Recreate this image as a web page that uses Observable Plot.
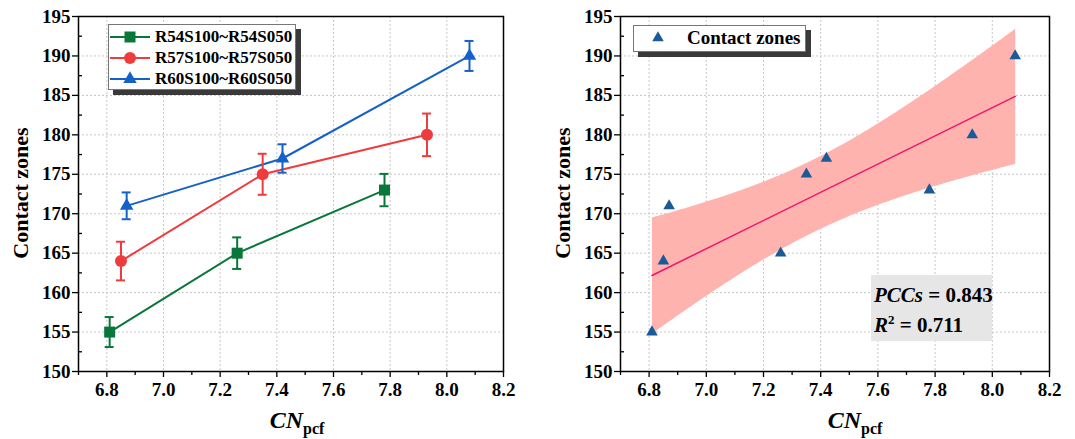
<!DOCTYPE html>
<html><head><meta charset="utf-8">
<script src="https://cdn.jsdelivr.net/npm/d3@7"></script>
<script src="https://cdn.jsdelivr.net/npm/@observablehq/plot@0.6"></script>
<style>
body{margin:0;background:#fff;}
#wrap{position:relative;width:1075px;height:439px;font-family:"Liberation Serif","Times New Roman",serif;font-weight:bold;color:#000;overflow:hidden;}
#wrap svg text{font-family:"Liberation Serif","Times New Roman",serif !important;font-weight:bold !important;font-size:19px !important;fill:#000;}
.panel{position:absolute;top:0;}
.ov{position:absolute;white-space:nowrap;}
.legend{position:absolute;background:#fff;border:1px solid #777;box-shadow:5px 5px 0 #3a3a3a;box-sizing:border-box;}
.lrow{display:flex;align-items:center;height:21px;}
.ylab{position:absolute;font-size:22px;transform:translate(-50%,-50%) rotate(-90deg);white-space:nowrap;line-height:1;}
.xlab{position:absolute;font-size:24px;transform:translateX(-50%);white-space:nowrap;line-height:1;}
.xlab i{font-style:italic;}
.xlab sub{font-size:16px;vertical-align:-6px;line-height:0;}
</style></head><body><div id="wrap"></div>
<script>
// ---- data ----
const seriesNames = ["R54S100~R54S050", "R57S100~R57S050", "R60S100~R60S050"];
const seriesColors = ["#0a773a", "#f03b3d", "#1561c9"];
const seriesSymbols = ["square", "circle", "triangle"];
const seriesRadius = [6.2, 6, 5];

const cnR54 = [6.81, 7.26, 7.78];
const zonesR54 = [155, 165, 173];
const errR54 = [1.9, 2.0, 2.05];

const cnR57 = [6.85, 7.35, 7.93];
const zonesR57 = [164, 175, 180];
const errR57 = [2.45, 2.6, 2.7];

const cnR60 = [6.87, 7.42, 8.08];
const zonesR60 = [171, 177, 190];
const errR60 = [1.7, 1.8, 1.9];

const xTicks = [6.8, 7.0, 7.2, 7.4, 7.6, 7.8, 8.0, 8.2];
const xMinorTicks = [6.7, 6.9, 7.1, 7.3, 7.5, 7.7, 7.9, 8.1];
const yTicks = [150, 155, 160, 165, 170, 175, 180, 185, 190, 195];
const yMinorTicks = [152.5, 157.5, 162.5, 167.5, 172.5, 177.5, 182.5, 187.5, 192.5];

// ---- build table ----
const groups = [[cnR54, zonesR54, errR54], [cnR57, zonesR57, errR57], [cnR60, zonesR60, errR60]];
const rows = [];
groups.forEach(([cn, zs, es], i) => cn.forEach((c, j) => rows.push({s: seriesNames[i], cn: c, z: zs[j], lo: zs[j] - es[j], hi: zs[j] + es[j]})));

const FONT = '"Liberation Serif","Times New Roman",serif';
const common = {
  height: 439, marginTop: 16, marginBottom: 68,
  x: {domain: [6.7, 8.2]},
  y: {domain: [150, 195]},
  style: {fontFamily: FONT, fontWeight: "bold", fontSize: "19px", color: "#000", background: "transparent", overflow: "visible"}
};
function axes() {
  return [
    Plot.gridX(xTicks.slice(0, -1), {stroke: "#c8c8c8", strokeOpacity: 1, strokeDasharray: "2,2"}),
    Plot.gridY(yTicks.slice(1, -1), {stroke: "#c8c8c8", strokeOpacity: 1, strokeDasharray: "2,2"}),
    Plot.axisX(xTicks, {tickSize: 6, tickPadding: 5, tickFormat: d => d.toFixed(1), label: null, strokeWidth: 1.3}),
    Plot.axisX(xMinorTicks, {tickSize: 4, tickFormat: () => "", label: null, strokeWidth: 1.3}),
    Plot.axisY(yTicks, {tickSize: 6, tickPadding: 2, label: null, strokeWidth: 1.3}),
    Plot.axisY(yMinorTicks, {tickSize: -4, tickFormat: () => "", label: null, strokeWidth: 1.3}),
  ];
}

const left = Plot.plot({
  ...common, width: 537, marginLeft: 78, marginRight: 34,
  color: {domain: seriesNames, range: seriesColors},
  marks: [
    ...axes(),
    Plot.line(rows, {x: "cn", y: "z", z: "s", stroke: "s", strokeWidth: 2}),
    Plot.ruleX(rows, {x: "cn", y1: "lo", y2: "hi", stroke: "s", strokeWidth: 2}),
    Plot.ruleY(rows, {y: "hi", x1: "cn", x2: "cn", insetLeft: -4.5, insetRight: -4.5, stroke: "s", strokeWidth: 2}),
    Plot.ruleY(rows, {y: "lo", x1: "cn", x2: "cn", insetLeft: -4.5, insetRight: -4.5, stroke: "s", strokeWidth: 2}),
    ...seriesNames.map((n, i) => Plot.dot(rows.filter(d => d.s === n), {x: "cn", y: "z", fill: seriesColors[i], symbol: seriesSymbols[i], r: seriesRadius[i]})),
    Plot.frame({stroke: "#000", strokeWidth: 1.5})
  ]
});

const right = Plot.plot({
  ...common, width: 538, marginLeft: 83, marginRight: 26,
  marks: [
    ...axes(),
    Plot.linearRegressionY(rows, {x: "cn", y: "z", ci: 0.95, stroke: "#f5126a", strokeWidth: 1.5, fill: "#ffb3ae", fillOpacity: 1}),
    Plot.dot(rows, {x: "cn", y: "z", symbol: "triangle", fill: "#1b5a98", r: 4.3}),
    Plot.frame({stroke: "#000", strokeWidth: 1.5})
  ]
});

const wrap = document.getElementById("wrap");
left.classList.add("panel"); left.style.left = "0px";
right.classList.add("panel"); right.style.left = "537px";
wrap.appendChild(left); wrap.appendChild(right);

function el(html, cls, style) {
  const d = document.createElement("div");
  d.className = cls; d.innerHTML = html; Object.assign(d.style, style); wrap.appendChild(d); return d;
}
function markerSvg(sym, color, r, withLine) {
  const path = d3.symbol(d3["symbol" + sym[0].toUpperCase() + sym.slice(1)], Math.PI * r * r)();
  return `<svg width="42" height="20" style="flex:none">${withLine ? `<line x1="1" x2="41" y1="10" y2="10" stroke="${color}" stroke-width="2"/>` : ""}<path transform="translate(21,10)" d="${path}" fill="${color}"/></svg>`;
}

// left legend
el(seriesNames.map((n, i) => `<div class="lrow">${markerSvg(seriesSymbols[i], seriesColors[i], seriesRadius[i], true)}<span style="margin-left:4px;font-size:17px">${n}</span></div>`).join(""),
  "legend", {left: "108px", top: "24px", width: "188px", height: "66px", padding: "1px 0 0 0"});
// right legend
el(`<div class="lrow" style="height:24px">${markerSvg("triangle", "#1b5a98", 4.3, false)}<span style="margin-left:8px;font-size:19px">Contact zones</span></div>`,
  "legend", {left: "633px", top: "25px", width: "173px", height: "27px", padding: "0 0 0 3px"});

// stats box
el(`<div style="height:30px"><i>PCCs</i> = 0.843</div><div style="height:30px"><i>R</i><sup style="font-size:13px;vertical-align:8px;line-height:0">2</sup> = 0.711</div>`,
  "ov", {left: "871px", top: "275px", width: "121px", height: "66px", background: "#e6e6e6", fontSize: "21px", padding: "5px 0 0 3px", boxSizing: "border-box", lineHeight: "30px"});

// axis titles
el("Contact zones", "ylab", {left: "21px", top: "193px"});
el("Contact zones", "ylab", {left: "563px", top: "193px"});
el("<i>CN</i><sub>pcf</sub>", "xlab", {left: "297px", top: "408px"});
el("<i>CN</i><sub>pcf</sub>", "xlab", {left: "855px", top: "408px"});
</script>
</body></html>
